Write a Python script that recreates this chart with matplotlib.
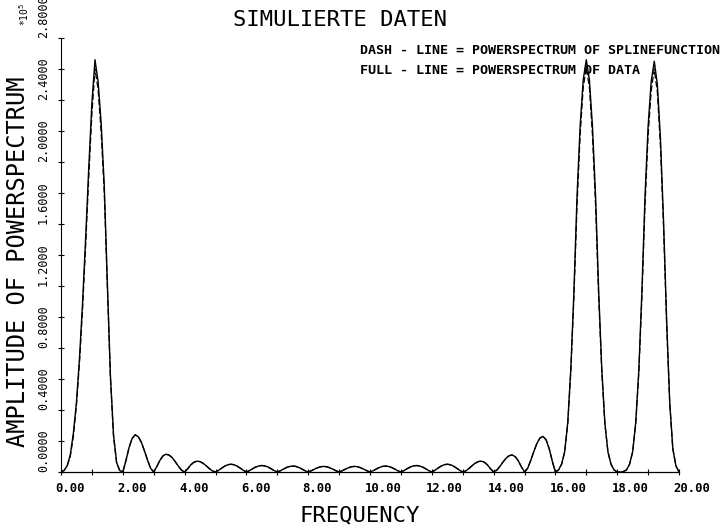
import matplotlib
matplotlib.use("Agg")
import matplotlib.pyplot as plt
import matplotlib.transforms as mtransforms
import numpy as np

plt.rcParams['font.family'] = ['DejaVu Sans Mono']

# frequency grid, step 0.1 from 0.00 to 20.00
freq = np.round(np.arange(201) * 0.1, 1)

# main lobe near f = 1 (0.0 - 1.9)
data_low = [0.00, 0.01, 0.04, 0.11, 0.25, 0.45, 0.74, 1.10, 1.52, 1.97,
            2.38, 2.66, 2.52, 2.25, 1.85, 1.22, 0.62, 0.24, 0.06, 0.01]
spline_low = [0.00, 0.01, 0.04, 0.10, 0.23, 0.43, 0.71, 1.06, 1.47, 1.91,
              2.31, 2.60, 2.47, 2.19, 1.80, 1.19, 0.60, 0.23, 0.06, 0.01]

# side lobes (2.0 - 15.9), both curves coincide here
side_lobes = [
    0.000, 0.072, 0.156, 0.216, 0.240, 0.228, 0.192, 0.137, 0.077, 0.024,
    0.000, 0.035, 0.075, 0.104, 0.115, 0.109, 0.092, 0.066, 0.037, 0.012,
    0.000, 0.021, 0.046, 0.063, 0.070, 0.067, 0.056, 0.040, 0.022, 0.007,
    0.000, 0.011, 0.025, 0.038, 0.047, 0.050, 0.047, 0.038, 0.025, 0.011,
    0.000, 0.009, 0.021, 0.032, 0.039, 0.042, 0.039, 0.032, 0.021, 0.009,
    0.000, 0.008, 0.019, 0.029, 0.036, 0.038, 0.036, 0.029, 0.019, 0.008,
    0.000, 0.008, 0.018, 0.027, 0.034, 0.036, 0.034, 0.027, 0.018, 0.008,
    0.000, 0.008, 0.018, 0.027, 0.034, 0.036, 0.034, 0.027, 0.018, 0.008,
    0.000, 0.008, 0.019, 0.029, 0.036, 0.038, 0.036, 0.029, 0.019, 0.008,
    0.000, 0.009, 0.021, 0.032, 0.039, 0.042, 0.039, 0.032, 0.021, 0.009,
    0.000, 0.011, 0.025, 0.038, 0.047, 0.050, 0.047, 0.038, 0.025, 0.011,
    0.000, 0.007, 0.022, 0.040, 0.056, 0.067, 0.070, 0.063, 0.046, 0.021,
    0.000, 0.011, 0.035, 0.063, 0.088, 0.105, 0.110, 0.099, 0.072, 0.033,
    0.000, 0.023, 0.074, 0.131, 0.184, 0.219, 0.230, 0.207, 0.150, 0.069,
]

# main lobes near f = 17 and f = 19 (16.0 - 20.0)
data_high = [0.00, 0.013, 0.05, 0.13, 0.32, 0.67, 1.17, 1.78, 2.23, 2.53,
             2.66, 2.53, 2.23, 1.78, 1.17, 0.67, 0.32, 0.13, 0.05, 0.013,
             0.00, 0.00, 0.003, 0.013, 0.05, 0.13, 0.32, 0.66, 1.17, 1.78,
             2.23, 2.52, 2.65, 2.50, 2.15, 1.62, 0.98, 0.45, 0.15, 0.04,
             0.00]
spline_high = [0.00, 0.013, 0.05, 0.13, 0.31, 0.65, 1.13, 1.72, 2.17, 2.48,
               2.61, 2.48, 2.17, 1.72, 1.13, 0.65, 0.31, 0.13, 0.05, 0.013,
               0.00, 0.00, 0.003, 0.013, 0.05, 0.13, 0.31, 0.64, 1.13, 1.72,
               2.17, 2.46, 2.60, 2.45, 2.10, 1.58, 0.95, 0.44, 0.15, 0.04,
               0.00]

power_data = data_low + side_lobes + data_high
power_spline = spline_low + side_lobes + spline_high

xticks = [0, 2, 4, 6, 8, 10, 12, 14, 16, 18, 20]
yticks = [0.0, 0.4, 0.8, 1.2, 1.6, 2.0, 2.4, 2.8]

W, H = 727, 528
fig = plt.figure(figsize=(W / 100, H / 100), dpi=100)
ax = fig.add_axes([61 / W, 56 / H, (679 - 61) / W, (472 - 38) / H])

ax.plot(freq, power_data, color='k', lw=1.0)
ax.plot(freq, power_spline, color='k', lw=0.9, ls=(0, (5, 2)))

ax.set_xlim(0, 20)
ax.set_ylim(0, 2.8)
for s in ['top', 'right']:
    ax.spines[s].set_visible(False)
ax.spines['bottom'].set_linewidth(0.9)
ax.spines['left'].set_linewidth(0.8)
ax.spines['left'].set_linestyle((0, (2, 1)))

ax.set_xticks(xticks, ['%.2f' % v for v in xticks])
ax.set_xticks(np.arange(1, 20, 2), minor=True)
ax.set_yticks(yticks, ['%.4f' % v for v in yticks])
ax.set_yticks(np.arange(0.2, 2.8, 0.4), minor=True)
ax.tick_params(which='both', direction='inout', length=4, width=0.8)
ax.tick_params(axis='x', labelsize=8.8, pad=5)
ax.tick_params(axis='y', labelsize=8.5, pad=6)

shift = mtransforms.ScaledTranslation(-4 / 72, 0, fig.dpi_scale_trans)
for lab in ax.get_xticklabels():
    lab.set_ha('left')
    lab.set_fontweight('bold')
    lab.set_transform(lab.get_transform() + shift)
for lab in ax.get_yticklabels():
    lab.set_rotation(90)
    lab.set_rotation_mode('anchor')
    lab.set_ha('left')
    lab.set_va('bottom')

fig.text(340 / W, 1 - 20 / H, 'SIMULIERTE DATEN', ha='center', va='center', fontsize=16)
fig.text(360 / W, 1 - 515 / H, 'FREQUENCY', ha='center', va='center', fontsize=16)
fig.text(18 / W, 1 - 262 / H, 'AMPLITUDE OF POWERSPECTRUM', rotation=90,
         ha='center', va='center', fontsize=17)
fig.text(24 / W, 1 - 14 / H, '*10$^5$', rotation=90, ha='center', va='center', fontsize=7)

fig.text(360 / W, 1 - 50 / H, 'DASH - LINE = POWERSPECTRUM OF SPLINEFUNCTION',
         ha='left', va='center', fontsize=9.6, fontweight='bold')
fig.text(360 / W, 1 - 71 / H, 'FULL - LINE = POWERSPECTRUM OF DATA',
         ha='left', va='center', fontsize=9.6, fontweight='bold')

fig.savefig('out.png', dpi=100)
